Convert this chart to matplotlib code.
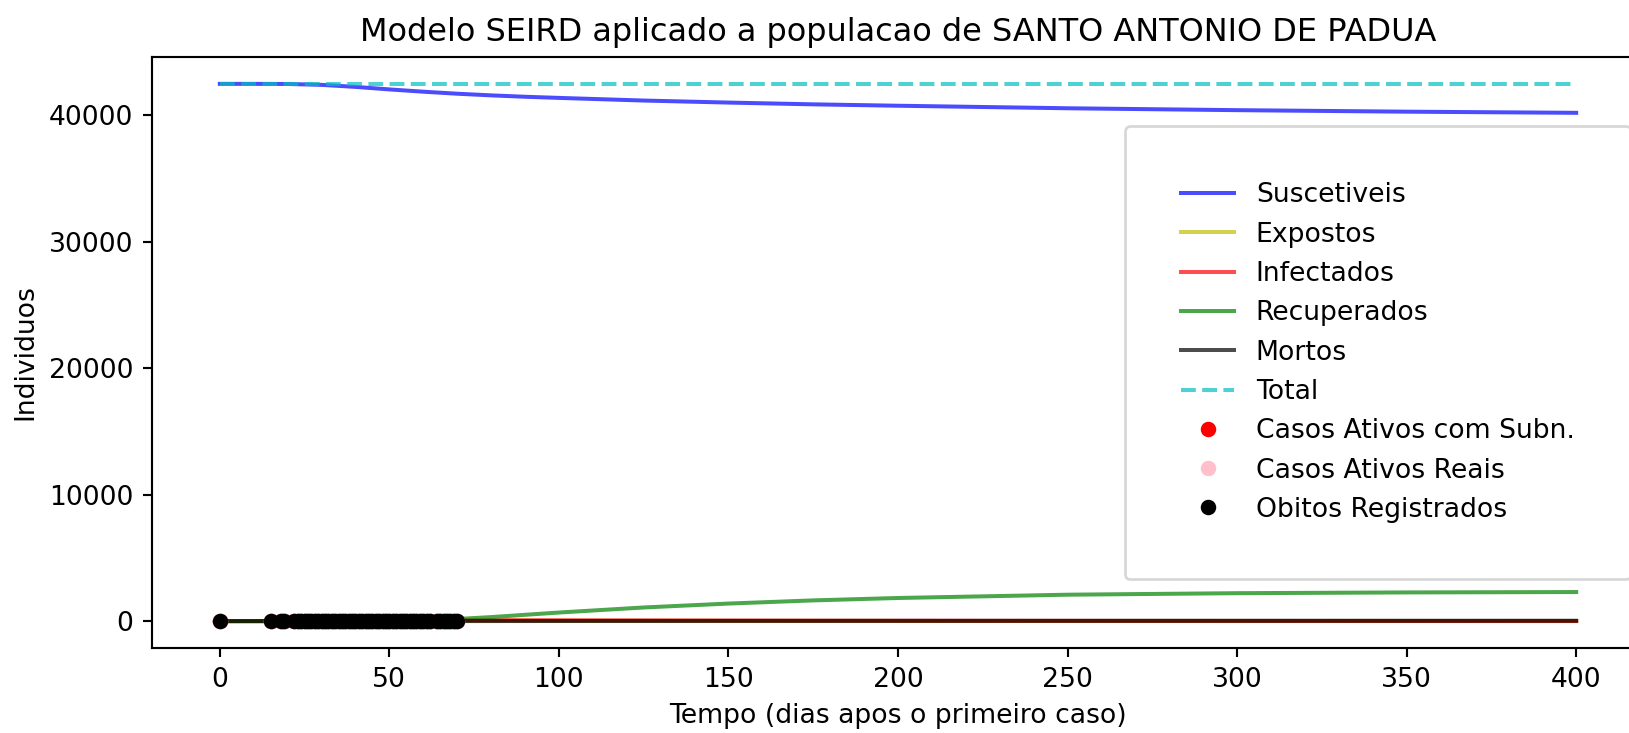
import matplotlib
matplotlib.use("Agg")
import matplotlib.pyplot as plt
import numpy as np

# -------------------------------
# DATA
# -------------------------------
populacao = 42479

dias_modelo = [0, 10, 20, 30, 40, 50, 60, 70, 80, 90, 100, 125, 150, 175,
               200, 250, 300, 350, 400]
suscetiveis = [42479, 42478, 42470, 42400, 42240, 42040, 41860, 41700, 41570,
               41460, 41370, 41160, 41000, 40860, 40750, 40550, 40400, 40280,
               40190]
expostos = [0, 3, 8, 15, 25, 35, 42, 45, 44, 40, 36, 28, 22, 18, 15, 10, 7, 5, 4]
infectados = [1, 4, 10, 20, 35, 50, 62, 70, 72, 70, 66, 55, 45, 37, 30, 21, 15, 11, 8]
recuperados = [0, 1, 3, 6, 12, 30, 80, 170, 320, 500, 680, 1080, 1390, 1640,
               1830, 2090, 2210, 2270, 2300]
mortos = [0, 0, 0, 1, 1, 2, 3, 5, 7, 9, 11, 15, 19, 22, 24, 27, 29, 30, 31]
total = [populacao] * len(dias_modelo)

dias_dados = [0, 15, 18, 19, 22, 23, 24, 25, 26, 27, 28, 29, 30, 31, 32, 33,
              34, 35, 36, 37, 38, 39, 40, 41, 42, 43, 44, 45, 46, 47, 48, 49,
              50, 51, 52, 53, 54, 55, 56, 57, 58, 59, 60, 61, 62, 64, 65, 66,
              67, 68, 69, 70]
ativos_subn = [0, 3, 4, 4, 6, 8, 10, 12, 15, 18, 20, 22, 25, 28, 30, 32,
               34, 36, 36, 38, 38, 40, 40, 40, 42, 42, 42, 40, 40, 38, 38, 36,
               36, 34, 30, 28, 26, 24, 20, 18, 16, 14, 12, 10, 8, 6, 5, 4,
               3, 2, 2, 2]
ativos_reais = [0, 1, 1, 1, 2, 2, 2, 3, 3, 4, 4, 5, 5, 6, 6, 7, 7, 8,
                8, 8, 8, 9, 9, 9, 9, 9, 9, 9, 9, 8, 8, 8, 8, 7,
                7, 6, 6, 5, 5, 4, 4, 3, 3, 2, 2, 2, 1, 1, 1, 1, 1, 1]
obitos = [0, 0, 0, 0, 0, 0, 0, 0, 0, 0, 0, 0, 0, 0, 0, 0, 0, 0, 0, 0, 0, 0,
          0, 0, 0, 0, 1, 1, 1, 1, 1, 1, 1, 1, 1, 1, 1, 1, 1, 1, 1, 1, 1, 1, 1,
          1, 1, 1, 1, 1, 1, 1]

# -------------------------------
# PLOT
# -------------------------------
DPI = 192
fig = plt.figure(figsize=(1629 / DPI, 733 / DPI), dpi=DPI)
ax = fig.add_axes([152 / 1629, 85 / 733, (1644 - 152) / 1629, (648 - 57) / 733])

ax.plot(dias_modelo, suscetiveis, "b", alpha=0.7, lw=1.5, label="Suscetiveis")
ax.plot(dias_modelo, expostos, "y", alpha=0.7, lw=1.5, label="Expostos")
ax.plot(dias_modelo, infectados, "r", alpha=0.7, lw=1.5, label="Infectados")
ax.plot(dias_modelo, recuperados, "g", alpha=0.7, lw=1.5, label="Recuperados")
ax.plot(dias_modelo, mortos, "k", alpha=0.7, lw=1.5, label="Mortos")
ax.plot(dias_modelo, total, "c--", alpha=0.7, lw=1.5, label="Total")

ax.plot(dias_dados, ativos_subn, "o", color="red", ms=4.8, label="Casos Ativos com Subn.")
ax.plot(dias_dados, ativos_reais, "o", color="pink", ms=4.8, label="Casos Ativos Reais")
ax.plot(dias_dados, obitos, "o", color="black", ms=4.8, label="Obitos Registrados")

ax.set_title("Modelo SEIRD aplicado a populacao de SANTO ANTONIO DE PADUA")
ax.set_xlabel("Tempo (dias apos o primeiro caso)")
ax.set_ylabel("Individuos")
ax.legend(loc="center right", borderpad=2.1)

fig.savefig("out.png", dpi=DPI)
